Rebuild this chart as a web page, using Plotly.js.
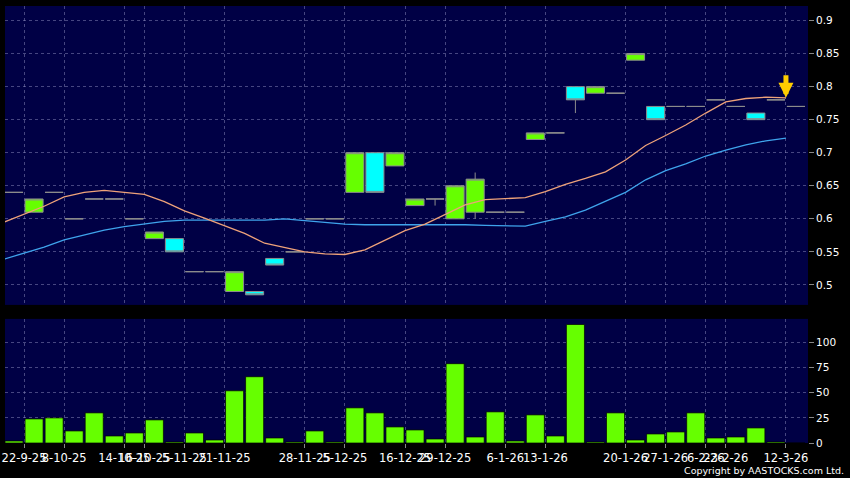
<!DOCTYPE html>
<html><head><meta charset="utf-8">
<script src="https://cdn.plot.ly/plotly-3.0.1.min.js"></script>
<style>html,body{margin:0;padding:0;background:#000;}#chart{width:850px;height:478px;}</style>
</head><body><div id="chart"></div>
<script>
// Candle OHLC (oldest -> newest)
const openP  = [0.64,0.61,0.64,0.60,0.63,0.63,0.60,0.57,0.57,0.52,0.52,0.49,0.49,0.54,0.55,0.60,0.60,0.64,0.70,0.68,
                0.62,0.63,0.60,0.61,0.61,0.61,0.72,0.73,0.80,0.79,0.79,0.84,0.77,0.77,0.77,0.78,0.77,0.76,0.78,0.77];
const highP  = [0.64,0.63,0.64,0.60,0.63,0.63,0.60,0.58,0.57,0.52,0.52,0.52,0.49,0.54,0.55,0.60,0.60,0.70,0.70,0.70,
                0.63,0.63,0.65,0.67,0.61,0.61,0.73,0.73,0.80,0.80,0.79,0.85,0.77,0.77,0.77,0.78,0.77,0.76,0.78,0.77];
const lowP   = [0.64,0.61,0.64,0.60,0.63,0.63,0.60,0.57,0.55,0.52,0.52,0.49,0.485,0.53,0.55,0.60,0.60,0.64,0.64,0.68,
                0.62,0.62,0.60,0.60,0.61,0.61,0.72,0.73,0.76,0.79,0.79,0.84,0.75,0.77,0.77,0.78,0.77,0.75,0.78,0.77];
const closeP = [0.64,0.63,0.64,0.60,0.63,0.63,0.60,0.58,0.55,0.52,0.52,0.52,0.485,0.53,0.55,0.60,0.60,0.70,0.64,0.70,
                0.63,0.63,0.65,0.66,0.61,0.61,0.73,0.73,0.78,0.80,0.79,0.85,0.75,0.77,0.77,0.78,0.77,0.75,0.78,0.77];
const volume = [2,24,25,12,30,7,10,23,1,10,3,52,66,5,1,12,1,35,30,16,
                13,4,79,6,31,2,28,7,118,1,30,3,9,11,30,5,6,15,1,0];
// Moving averages (short = orange, long = blue)
const maShort = [0.595,0.607,0.619,0.633,0.640,0.643,0.640,0.637,0.626,0.612,0.601,0.590,0.578,0.563,0.557,0.550,0.547,0.546,0.553,0.568,
                 0.582,0.592,0.606,0.621,0.629,0.630,0.632,0.641,0.652,0.661,0.671,0.689,0.711,0.726,0.742,0.760,0.777,0.782,0.784,0.783];
const maLong  = [0.539,0.548,0.557,0.568,0.575,0.583,0.588,0.592,0.596,0.598,0.598,0.598,0.598,0.598,0.600,0.597,0.595,0.592,0.591,0.591,
                 0.592,0.591,0.592,0.591,0.590,0.589,0.589,0.596,0.603,0.613,0.626,0.640,0.659,0.673,0.683,0.695,0.704,0.712,0.718,0.722];
// Date labels and the candle each one belongs to
const tickCandle = [1,3,6,7,9,11,15,17,20,22,25,27,31,33,35,36,39];
const tickLabels = ['22-9-25','8-10-25','14-10-25','16-10-25','5-11-25','21-11-25','28-11-25','5-12-25','16-12-25','29-12-25',
                    '6-1-26','13-1-26','20-1-26','27-1-26','6-2-26','23-2-26','12-3-26'];
const priceTicks = [0.5,0.55,0.6,0.65,0.7,0.75,0.8,0.85,0.9];
const volTicks = [0,25,50,75,100];

const idx = openP.map((_, i) => i);
const edge = idx.map(i => i - 0.5);

const grid = 'rgba(140,140,190,0.5)';
const tickFont = {family:'DejaVu Sans', size:10.5, color:'#ffffff'};

const traces = [
  {type:'candlestick', x: idx, open: openP, high: highP, low: lowP, close: closeP,
   xaxis:'x', yaxis:'y', whiskerwidth:0, hoverinfo:'skip',
   increasing:{fillcolor:'#66ff00', line:{color:'#8c8c8c', width:1}},
   decreasing:{fillcolor:'#00ffff', line:{color:'#8c8c8c', width:1}}},
  {type:'scatter', mode:'lines', x: edge, y: maLong, xaxis:'x', yaxis:'y',
   line:{color:'#3fa4ec', width:1.3}, hoverinfo:'skip'},
  {type:'scatter', mode:'lines', x: edge, y: maShort, xaxis:'x', yaxis:'y',
   line:{color:'#eea27a', width:1.3}, hoverinfo:'skip'},
  {type:'bar', x: idx, y: volume, xaxis:'x', yaxis:'y2', width:0.9,
   marker:{color:'#66ff00', line:{color:'rgba(0,0,0,0.7)', width:1}}, hoverinfo:'skip'}
];

const layout = {
  width:850, height:478,
  paper_bgcolor:'#000000', plot_bgcolor:'#000045',
  margin:{l:5, r:42, t:6, b:35},
  showlegend:false,
  boxgap:0.1, boxgroupgap:0,
  xaxis:{range:[-0.45,39.6], anchor:'y2', tickmode:'array',
         tickvals: tickCandle.map(k => k - 0.5), ticktext: tickLabels, tickangle:0,
         showgrid:true, gridcolor:grid, griddash:'3px,3px', gridwidth:1,
         ticks:'outside', ticklen:4, tickcolor:'#888',
         tickfont:{family:'DejaVu Sans', size:11.5, color:'#ffffff'},
         zeroline:false, showline:false, rangeslider:{visible:false}, fixedrange:true},
  yaxis:{domain:[0.316,1], range:[0.4697,0.922], side:'right', tickmode:'array',
         tickvals: priceTicks, ticktext: priceTicks.map(v => String(v)),
         showgrid:true, gridcolor:grid, griddash:'3px,3px',
         ticks:'outside', ticklen:5, tickcolor:'#888', tickfont:tickFont,
         zeroline:false, showline:false, fixedrange:true},
  yaxis2:{domain:[0,0.284], range:[0,123.6], side:'right', tickmode:'array',
         tickvals: volTicks, ticktext: volTicks.map(v => String(v)),
         showgrid:true, gridcolor:grid, griddash:'3px,3px',
         ticks:'outside', ticklen:5, tickcolor:'#888', tickfont:tickFont,
         zeroline:false, showline:false, fixedrange:true},
  annotations:[
    {xref:'x', yref:'y', x: idx.length - 1.5, y: maShort[maShort.length-1], text:'',
     showarrow:true, ax:0, ay:-24, arrowcolor:'#ffcc00', arrowwidth:5, arrowhead:2, arrowsize:0.6, standoff:0},
    {xref:'paper', yref:'paper', x:1.047, y:-0.062, xanchor:'right', yanchor:'middle', showarrow:false,
     text:'Copyright by AASTOCKS.com Ltd.', font:{family:'DejaVu Sans', size:9.5, color:'#ffffff'}}
  ]
};

Plotly.newPlot('chart', traces, layout, {displayModeBar:false, staticPlot:true});
</script>
</body></html>
